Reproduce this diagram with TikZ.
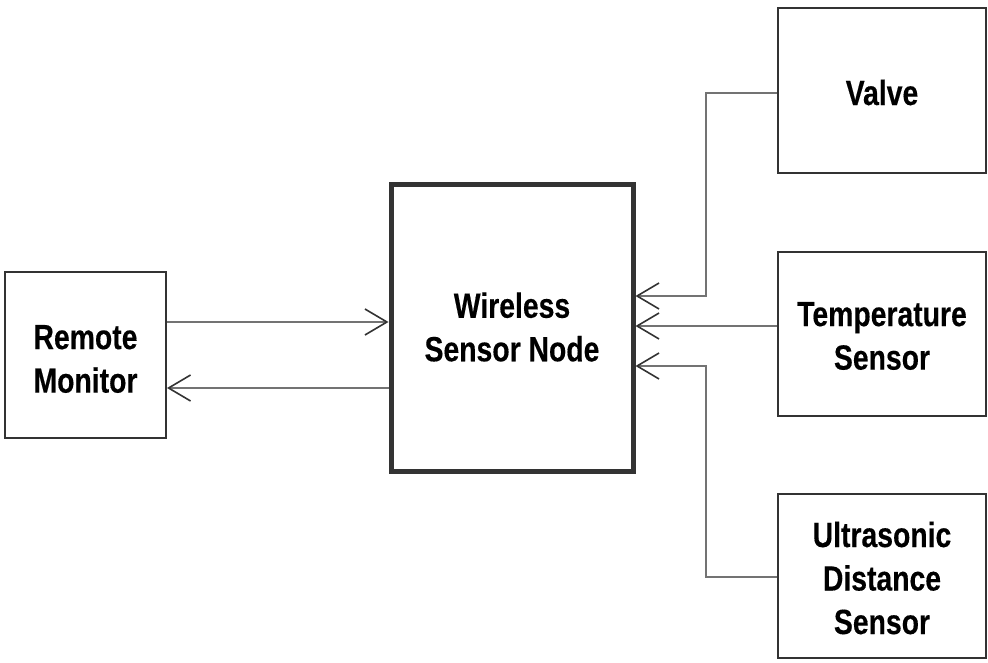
\documentclass[tikz,border=0pt]{standalone}
\usepackage{fontspec}
\setmainfont[FakeStretch=0.81,FakeBold=0.3]{Liberation Sans}
\usetikzlibrary{arrows.meta}
\begin{document}
\begin{tikzpicture}[x=1pt,y=-1pt,
  block/.style={draw=black!80,line width=2pt,fill=white,inner sep=0pt},
  caption/.style={align=center,inner sep=0pt,font=\fontsize{35}{43.5}\selectfont\bfseries},
  link/.style={draw=black!55,line width=2.4pt,
    -{Straight Barb[length=22pt,width=26pt,line width=1.6pt,color=black!80]}}]
\useasboundingbox (0,0) rectangle (988,663);
% boxes
\node[block,minimum width=161pt,minimum height=166pt] (rm) at (85.5,355) {};
\node[block,line width=5pt,minimum width=242pt,minimum height=286pt] (wsn) at (512,328) {};
\node[block,minimum width=208pt,minimum height=165pt] (valve) at (882,90.5) {};
\node[block,minimum width=208pt,minimum height=164pt] (temp) at (882,334) {};
\node[block,minimum width=208pt,minimum height=164pt] (us) at (882,576) {};
% box captions
\node[caption] (rmt) at ([yshift=-4pt]rm.center) {Remote\\Monitor};
\node[caption] (wsnt) at ([yshift=1pt]wsn.center) {Wireless\\Sensor Node};
\node[caption] (valvet) at ([yshift=-2pt]valve.center) {Valve};
\node[caption] (tempt) at ([yshift=-2pt]temp.center) {Temperature\\Sensor};
\node[caption] (ust) at ([yshift=-2pt]us.center) {Ultrasonic\\Distance\\Sensor};
% bend points on the sensor side
\coordinate (vb) at (706,93);
\coordinate (ub) at (706,577);
% links between monitor and node
\draw[link] (rm.east |- 0,322) -- (wsn.west |- 0,322);
\draw[link] (wsn.west |- 0,388) -- (rm.east |- 0,388);
% sensors and actuator into the node
\draw[link] (valve.west |- vb) -- (vb) |- (wsn.east |- 0,296);
\draw[link] (temp.west |- 0,326) -- (wsn.east |- 0,326);
\draw[link] (us.west |- ub) -- (ub) |- (wsn.east |- 0,366);
\end{tikzpicture}
\end{document}
